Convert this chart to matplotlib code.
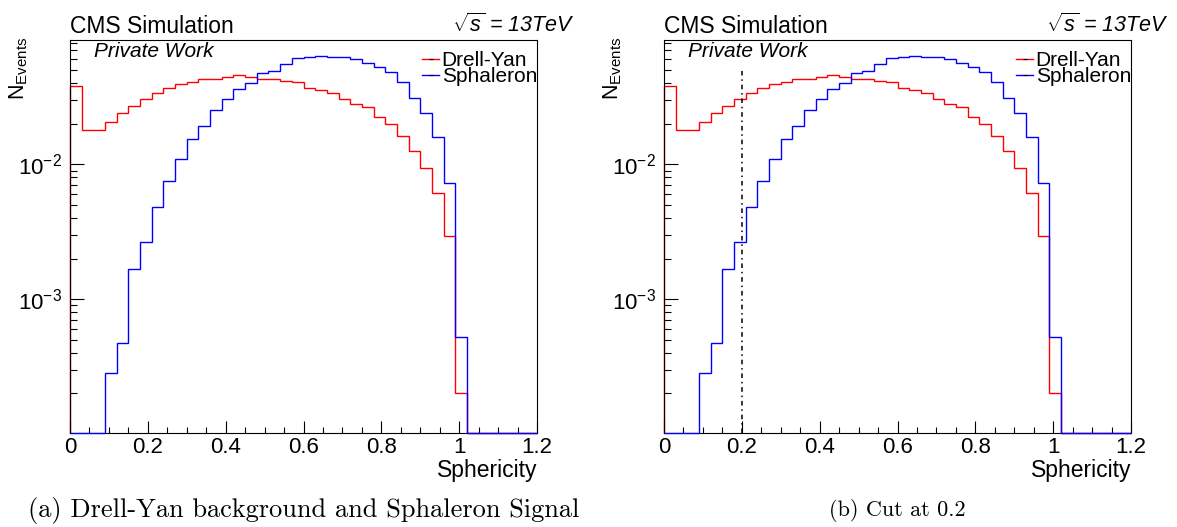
"""
Sphericity distributions of Drell-Yan background and Sphaleron signal
"""
import matplotlib

matplotlib.use("Agg")
import matplotlib.pyplot as plt
import numpy as np
from matplotlib.lines import Line2D
from matplotlib.ticker import FixedLocator, FuncFormatter, LogLocator, MultipleLocator, NullFormatter

plt.rcParams["font.family"] = ["Liberation Sans", "DejaVu Sans"]
plt.rcParams["mathtext.fontset"] = "custom"
plt.rcParams["mathtext.rm"] = "Liberation Sans"
plt.rcParams["mathtext.it"] = "Liberation Sans:italic"
plt.rcParams["mathtext.bf"] = "Liberation Sans:bold"

# histogram binning: 40 bins of 0.03 between 0 and 1.2
bin_edges = np.linspace(0.0, 1.2, 41)

drell_yan = [
    0.0381, 0.0181, 0.0181, 0.0205, 0.0242, 0.0271, 0.0304, 0.0340,
    0.0369, 0.0393, 0.0408, 0.0428, 0.0432, 0.0447, 0.0463, 0.0445,
    0.0430, 0.0430, 0.0418, 0.0406, 0.0367, 0.0354, 0.0340, 0.0307,
    0.0280, 0.0265, 0.0226, 0.0198, 0.0163, 0.0126, 0.00933, 0.00609,
    0.00294, 0.000201, 0, 0, 0, 0, 0, 0,
]
sphaleron = [
    0, 0, 0, 0.000284, 0.000474, 0.00166, 0.00264, 0.00484,
    0.00752, 0.01094, 0.0154, 0.0192, 0.0253, 0.0305, 0.0362, 0.0403,
    0.0474, 0.0496, 0.0553, 0.0612, 0.0629, 0.0637, 0.0629, 0.0623,
    0.0602, 0.0568, 0.0525, 0.0487, 0.0410, 0.0312, 0.0239, 0.0160,
    0.00723, 0.000522, 0, 0, 0, 0, 0, 0,
]
labels = ["Drell-Yan", "Sphaleron"]
colors = ["#ff0000", "#0000ff"]
cut_value = 0.2
cut_line_top = 0.05
captions = ["(a) Drell-Yan background and Sphaleron Signal", "(b) Cut at 0.2"]
caption_sizes = [19, 16]

y_min, y_max = 1.02e-4, 0.0837
W, H = 1177, 527


def draw_panel(ax, with_cut):
    for values, color in zip((drell_yan, sphaleron), colors):
        vals = np.maximum(np.asarray(values, dtype=float), y_min)
        ax.stairs(vals, bin_edges, baseline=y_min, color=color, lw=1.0,
                  zorder=3, clip_on=False)
    if with_cut:
        ax.plot([cut_value, cut_value], [y_min, cut_line_top], color="black",
                lw=1.1, ls=(0, (3, 2.5, 1, 2.5)), zorder=4)

    ax.set_yscale("log")
    ax.set_xlim(0, 1.2)
    ax.set_ylim(y_min, y_max)

    ax.xaxis.set_major_locator(MultipleLocator(0.2))
    ax.xaxis.set_minor_locator(MultipleLocator(0.05))
    ax.xaxis.set_major_formatter(FuncFormatter(lambda v, p: f"{v:g}"))
    ax.yaxis.set_major_locator(FixedLocator([1e-3, 1e-2]))
    ax.yaxis.set_minor_locator(LogLocator(base=10, subs=np.arange(2, 10)))
    ax.yaxis.set_major_formatter(
        FuncFormatter(lambda v, p: r"$10^{%d}$" % int(round(np.log10(v))))
    )
    ax.yaxis.set_minor_formatter(NullFormatter())

    ax.tick_params(axis="both", which="both", direction="in", width=0.8,
                   top=False, right=False, labelsize=16)
    ax.tick_params(axis="x", which="major", length=8.6, pad=2.8)
    ax.tick_params(axis="x", which="minor", length=4.3)
    ax.tick_params(axis="y", which="major", length=10, pad=5.5)
    ax.tick_params(axis="y", which="minor", length=5.2)
    for spine in ax.spines.values():
        spine.set_linewidth(0.8)
    # left frame line sits on top of the histogram outline
    ax.spines["left"].set_zorder(5)

    ax.set_xlabel("Sphericity", fontsize=16.5, loc="right", va="baseline")
    ax.xaxis.set_label_coords(1.0, -0.112)

    ax.text(0.0, 1.017, "CMS Simulation", transform=ax.transAxes,
            ha="left", va="baseline", fontsize=16.5)
    ax.text(1.081, 1.0196, r"$\sqrt{s}$ = 13TeV", transform=ax.transAxes,
            ha="right", va="baseline", fontsize=15.5, style="italic")
    ax.text(0.052, 0.9575, "Private Work", transform=ax.transAxes,
            ha="left", va="baseline", fontsize=15, style="italic")

    handles = [
        Line2D([], [], color=c, lw=1.0, marker="_", ms=3, mec="black", mew=0.8)
        for c in colors
    ]
    ax.legend(handles, labels, loc="upper right", bbox_to_anchor=(1.0, 0.972),
              frameon=False, fontsize=15, handlelength=0.8,
              handletextpad=0.12, labelspacing=-0.12, borderaxespad=0.0,
              borderpad=0.0, numpoints=1)


fig = plt.figure(figsize=(W / 100, H / 100), dpi=100)
ax_w = 467 / W
ax_h = (432.7 - 40) / H
ax_b = 1 - 432.7 / H
axes = [
    fig.add_axes([70 / W, ax_b, ax_w, ax_h]),
    fig.add_axes([664 / W, ax_b, ax_w, ax_h]),
]

for i, ax in enumerate(axes):
    draw_panel(ax, with_cut=(i == 1))

for x_left in (70, 664):
    fig.text((x_left - 51) / W, 1 - 37 / H, r"N$_{\mathregular{Events}}$",
             rotation=90, ha="center", va="top", fontsize=15.5)

for ax, caption, size in zip(axes, captions, caption_sizes):
    pos = ax.get_position()
    fig.text((pos.x0 + pos.x1) / 2, 1 - 510 / H, caption, ha="center",
             va="center", fontsize=size, family="cmr10")

fig.savefig("out.png", dpi=100)
